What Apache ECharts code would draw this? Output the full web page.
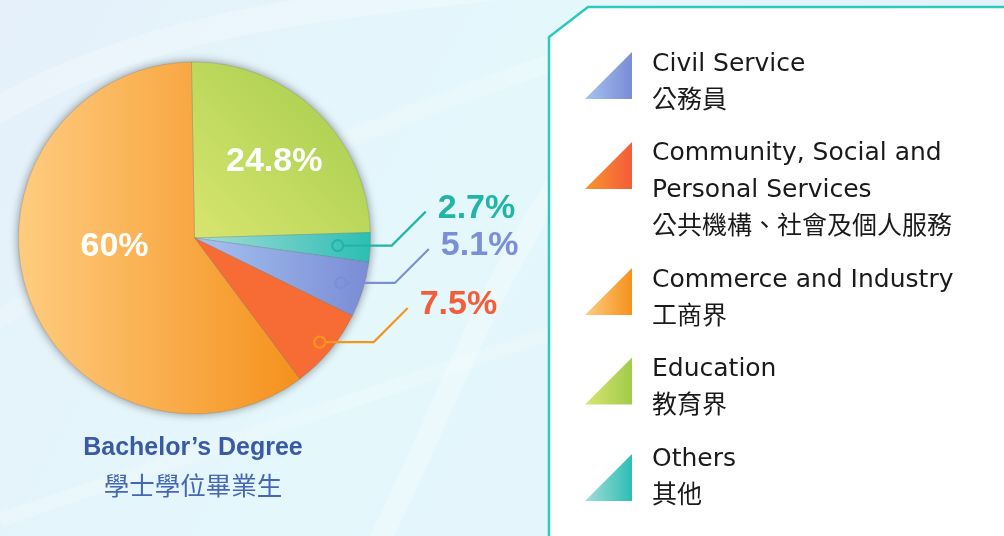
<!DOCTYPE html>
<html>
<head>
<meta charset="utf-8">
<title>Bachelor's Degree graduates by sector</title>
<script src="https://cdn.jsdelivr.net/npm/echarts@6/dist/echarts.min.js"></script>
<style>
  html, body { margin: 0; padding: 0; }
  #chart { width: 1004px; height: 536px; }
</style>
</head>
<body>
<div id="chart"></div>
<script>
// sectors, in legend order
var sectorsEn = ['Civil Service', 'Community, Social and Personal Services', 'Commerce and Industry', 'Education', 'Others']
var sectorsZh = ['公務員', '公共機構、社會及個人服務', '工商界', '教育界', '其他']
// share of graduates (%)
var shares = [5.1, 7.5, 60, 24.8, 2.7]
// slice order, clockwise from 12 o'clock
var pieOrder = [3, 4, 0, 1, 2]

var titleEn = 'Bachelor’s Degree'
var titleZh = '學士學位畢業生'

// light -> dark for each sector
var palette = [
  ['#a6c2f0', '#7a8cd5'],
  ['#f8952b', '#f45c3b'],
  ['#fecc80', '#f5911c'],
  ['#d8e56e', '#a1cb4b'],
  ['#a6ddd8', '#2bbeb4']
]
var labelColors = ['#7a8fd8', '#f45d3a', '#fff', '#fff', '#22b5a7']
var leaderColors = ['#7b8fd6', '#f7941d', '', '', '#22b5a7']
// where each percentage sits: inside the slice, or on a leader line from a ring
var labelPlace = [
  { ring: 0.87 },
  { ring: 0.925 },
  { inside: 0.45, dx: -5, dy: -17 },
  { inside: 0.64, dx: 2, dy: 5 },
  { ring: 0.815 }
]
// legend layout: triangle top, and blank space under the triangle (in triangle heights)
var legendTri = [52, 142, 268, 357.5, 454]
var legendBlank = [0.3, 1.05, 0.3, 0.3, 0.02]
var legendLines = [2, 3, 2, 2, 2]
var wrapEn = { 'Community, Social and Personal Services': 'Community, Social and\nPersonal Services' }

var CX = 194.5, CY = 238, R = 176, START = 91
var TRI = 47, LINE = 37
var G = echarts.graphic

function grad (c, x0, y0, x1, y1) {
  return new G.LinearGradient(x0, y0, x1, y1, [
    { offset: 0, color: c[0] },
    { offset: 1, color: c[1] }
  ])
}

function sliceColor (i) {
  if (i === 1) return '#f76c35'
  if (i === 3) return grad(palette[i], 0, 1, 1, 0)
  return grad(palette[i], 0, 0, 1, 0)
}

var total = shares.reduce(function (a, b) { return a + b }, 0)
var acc = 0
var noteData = pieOrder.map(function (i) {
  var row = [shares[i], acc, i]
  acc += shares[i]
  return row
})

function renderNotes (params, api) {
  var i = api.value(2)
  var a = (START - (api.value(1) + api.value(0) / 2) / total * 360) * Math.PI / 180
  var ux = Math.cos(a)
  var uy = -Math.sin(a)
  var p = labelPlace[i]
  var text = shares[i] + '%'
  if (p.inside) {
    return {
      type: 'text',
      style: {
        text: text,
        x: CX + ux * R * p.inside + p.dx,
        y: CY + uy * R * p.inside + p.dy,
        fill: '#fff',
        font: 'bold 34px "Liberation Sans", Arial, sans-serif',
        align: 'center',
        verticalAlign: 'middle'
      }
    }
  }
  var px = CX + ux * R * p.ring
  var py = CY + uy * R * p.ring
  var bx = px + 54
  var ex = bx + 34
  var ey = py - 34
  return {
    type: 'group',
    children: [
      {
        type: 'circle',
        shape: { cx: px, cy: py, r: 5.5 },
        style: { fill: 'none', stroke: leaderColors[i], lineWidth: 2.2 }
      },
      {
        type: 'polyline',
        shape: { points: [[px + 5.5, py], [bx, py], [ex, ey]] },
        style: { fill: null, stroke: leaderColors[i], lineWidth: 2.2 }
      },
      {
        type: 'text',
        style: {
          text: text,
          x: ex + 12,
          y: ey - 3,
          fill: labelColors[i],
          font: 'bold 34px "Liberation Sans", Arial, sans-serif',
          align: 'left',
          verticalAlign: 'middle'
        }
      }
    ]
  }
}

var legends = sectorsEn.map(function (name, i) {
  var b = legendBlank[i]
  var h = TRI * (1 + b)
  // text block is centred on the whole icon, triangle sits at its top
  var top = Math.min(legendTri[i], legendTri[i] + h / 2 - legendLines[i] * LINE / 2)
  return {
    orient: 'vertical',
    left: 585,
    top: top,
    padding: 0,
    selectedMode: false,
    itemWidth: TRI,
    itemHeight: h,
    icon: 'path://M1,0L1,1L0,1Z M0,' + (1 + b) + 'L0,' + (1 + b),
    itemStyle: { borderWidth: 0, shadowBlur: 0, shadowColor: 'transparent' },
    data: [{ name: name, itemStyle: { color: grad(palette[i], 0, 0, 1, 0) } }],
    formatter: function (n) {
      return (wrapEn[n] || n) + '\n' + sectorsZh[sectorsEn.indexOf(n)]
    },
    textStyle: {
      fontFamily: '"DejaVu Sans", "Noto Sans CJK TC", sans-serif',
      fontSize: 25,
      lineHeight: LINE,
      color: '#1a1a1a',
      padding: [0, 0, 0, 15]
    }
  }
})

function streak (pts, w, o) {
  return {
    type: 'bezierCurve',
    silent: true,
    z: -10,
    shape: { x1: pts[0], y1: pts[1], cpx1: pts[2], cpy1: pts[3], cpx2: pts[4], cpy2: pts[5], x2: pts[6], y2: pts[7] },
    style: { stroke: 'rgba(255,255,255,' + o + ')', lineWidth: w, fill: null }
  }
}

var option = {
  backgroundColor: new G.LinearGradient(0, 0, 1, 1, [
    { offset: 0, color: '#e5f0fa' },
    { offset: 0.45, color: '#e4f8fc' },
    { offset: 1, color: '#e3edf8' }
  ]),
  animation: false,
  title: {
    text: titleEn,
    subtext: titleZh,
    left: 193,
    top: 433,
    padding: 0,
    textAlign: 'center',
    itemGap: 7,
    textStyle: {
      fontFamily: '"Liberation Sans", Arial, sans-serif',
      fontSize: 25,
      fontWeight: 'bold',
      lineHeight: 30,
      color: '#3a5aa6'
    },
    subtextStyle: {
      fontFamily: '"Noto Sans CJK TC", sans-serif',
      fontSize: 25.5,
      lineHeight: 30,
      color: '#4667b4'
    }
  },
  legend: legends,
  graphic: [
    streak([-20, 120, 150, 20, 300, 10, 560, -20], 26, 0.25),
    streak([-20, 330, 120, 250, 260, 160, 560, 60], 18, 0.2),
    streak([380, 540, 440, 420, 480, 300, 560, 180], 22, 0.25),
    streak([0, 520, 150, 470, 300, 420, 560, 330], 14, 0.2),
    {
      type: 'polygon',
      silent: true,
      z: 0,
      shape: { points: [[549, 37], [588, 7], [1012, 7], [1012, 545], [549, 545]] },
      style: { fill: '#fff', stroke: '#2cc9bf', lineWidth: 2.5 }
    }
  ],
  series: [
    {
      // soft shadow under the pie
      type: 'pie',
      silent: true,
      z: 1,
      center: [CX, CY],
      radius: R,
      label: { show: false },
      labelLine: { show: false },
      itemStyle: {
        color: '#cfd6dd',
        shadowBlur: 10,
        shadowColor: 'rgba(0,0,0,0.45)'
      },
      data: [total]
    },
    {
      type: 'pie',
      z: 2,
      silent: true,
      center: [CX, CY],
      radius: R,
      startAngle: START,
      clockwise: true,
      label: { show: false },
      labelLine: { show: false },
      itemStyle: { borderColor: 'rgba(80,80,80,0.35)', borderWidth: 0.6 },
      data: pieOrder.map(function (i) {
        return { name: sectorsEn[i], value: shares[i], itemStyle: { color: sliceColor(i) } }
      })
    },
    {
      type: 'custom',
      coordinateSystem: 'none',
      silent: true,
      z: 5,
      renderItem: renderNotes,
      data: noteData
    }
  ]
}

var chart = echarts.init(document.getElementById('chart'))
chart.setOption(option)
</script>
</body>
</html>
